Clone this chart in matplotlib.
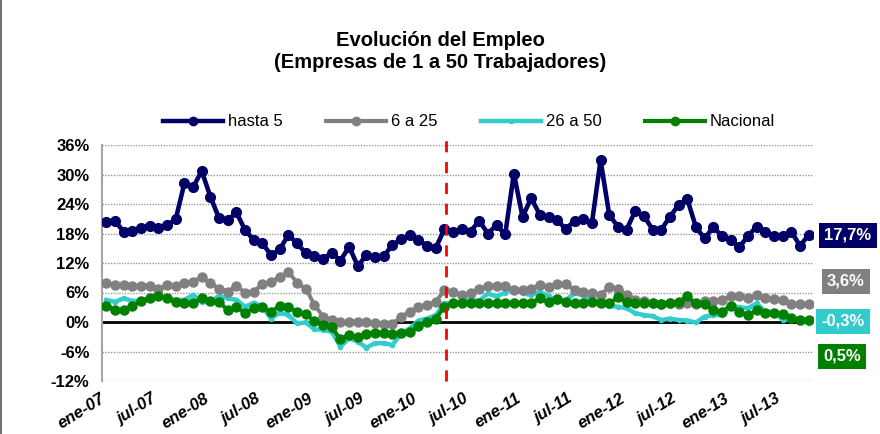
import numpy as np
import matplotlib
matplotlib.use("Agg")
import matplotlib.pyplot as plt
import matplotlib.transforms as mtransforms
from matplotlib.lines import Line2D

plt.rcParams['font.family'] = ['Liberation Sans', 'DejaVu Sans']

# monthly series, ene-07 .. oct-13 (82 months), % yoy
hasta5 = [20.4, 20.5, 18.4, 18.5, 19.2, 19.6, 19.1, 19.7, 20.9, 28.2, 27.4, 30.7,
          25.5, 21.1, 20.7, 22.3, 18.7, 16.7, 16.0, 13.6, 14.8, 17.7, 16.0, 14.0,
          13.4, 12.9, 14.0, 12.5, 15.3, 11.4, 13.6, 13.2, 13.4, 15.7, 16.8, 17.7,
          16.7, 15.5, 15.1, 18.9, 18.4, 18.9, 18.4, 20.6, 18.0, 19.7, 17.8, 30.2,
          21.4, 25.2, 21.8, 21.3, 20.7, 18.9, 20.6, 20.9, 20.1, 32.9, 21.8, 19.4,
          18.8, 22.6, 21.6, 18.8, 18.8, 21.4, 23.8, 25.0, 19.3, 17.0, 19.3, 17.5,
          16.7, 15.2, 17.5, 19.4, 18.4, 17.4, 17.4, 18.4, 15.5, 17.7]
de6a25 = [7.9, 7.5, 7.5, 7.4, 7.4, 7.3, 6.8, 7.5, 7.3, 8.0, 8.2, 9.2,
          7.9, 6.8, 6.2, 7.3, 6.0, 6.2, 7.7, 8.2, 9.2, 10.2, 8.0, 6.8,
          3.5, 1.1, 0.5, -0.1, 0.1, 0.1, -0.1, -0.3, -0.4, -0.4, 1.1, 2.1,
          3.1, 3.5, 4.1, 6.5, 6.2, 5.5, 5.8, 6.8, 7.3, 7.3, 7.3, 6.5,
          6.6, 6.8, 7.6, 7.2, 7.8, 7.7, 6.5, 6.2, 5.8, 5.5, 7.1, 6.8,
          5.5, 4.5, 4.3, 3.9, 3.7, 3.8, 3.7, 3.8, 3.7, 4.3, 4.3, 4.5,
          5.2, 5.2, 4.8, 5.4, 4.8, 4.6, 4.5, 3.7, 3.7, 3.6]
de26a50 = [4.5, 4.1, 4.8, 4.3, 4.3, 4.8, 5.2, 4.8, 4.5, 4.5, 5.5, 4.1,
           4.1, 5.3, 4.8, 4.5, 3.1, 3.9, 3.1, 0.7, 1.9, 1.4, -0.3, -0.1,
           -1.5, -1.6, -2.0, -5.0, -3.3, -4.0, -5.2, -4.3, -4.3, -4.7, -2.3, -1.3,
           0.3, 0.7, 1.4, 3.8, 3.8, 4.1, 4.6, 4.3, 5.8, 5.2, 6.0, 7.0,
           5.8, 5.5, 6.1, 5.3, 4.0, 4.5, 5.8, 5.5, 4.1, 4.5, 3.3, 3.1,
           2.8, 1.8, 1.4, 1.2, 0.4, 0.7, 0.4, 0.3, -0.1, 1.1, 1.4, 1.4,
           3.3, 3.0, 2.8, 3.8, 2.1, 2.1, 0.4, 0.5, 0.4, -0.3]
nacional = [3.3, 2.4, 2.4, 3.3, 4.3, 4.8, 5.2, 4.8, 4.1, 3.9, 3.8, 4.8,
            4.3, 4.1, 2.4, 3.0, 1.9, 2.8, 3.1, 2.1, 3.3, 3.1, 2.1, 1.6,
            0.2, -0.6, -1.1, -3.5, -2.6, -3.1, -2.4, -2.2, -2.2, -2.4, -2.3, -2.0,
            -0.9, -0.1, 0.7, 3.1, 3.8, 3.8, 3.9, 3.9, 3.9, 3.8, 3.8, 3.9,
            3.9, 3.9, 4.8, 4.0, 4.7, 4.1, 3.9, 3.9, 4.1, 3.8, 3.8, 5.0,
            4.1, 3.9, 3.8, 3.9, 3.7, 3.9, 4.1, 5.2, 3.8, 3.7, 2.4, 2.1,
            3.3, 2.1, 1.4, 2.4, 1.9, 1.8, 1.6, 0.9, 0.5, 0.5]
series_names = ["hasta 5", "6 a 25", "26 a 50", "Nacional"]
tick_labels = ["ene-07", "jul-07", "ene-08", "jul-08", "ene-09", "jul-09", "ene-10",
               "jul-10", "ene-11", "jul-11", "ene-12", "jul-12", "ene-13", "jul-13"]
end_labels = ["17,7%", "3,6%", "-0,3%", "0,5%"]
break_month = 39.15  # red dashed marker, around abr-10

colors = ["#000066", "#808080", "#33CCCC", "#008000"]

fig = plt.figure(figsize=(8.8, 4.34), dpi=100)
ax = fig.add_axes([102/880, 1 - 381/434, 711/880, 236/434])

x = np.arange(len(hasta5))
ax.plot(x, de26a50, color=colors[2], lw=3.2, marker='o', ms=3, zorder=3)
ax.plot(x, de6a25, color=colors[1], lw=2.8, marker='o', ms=6.5, zorder=4)
ax.plot(x, nacional, color=colors[3], lw=2.8, marker='o', ms=6.5, zorder=5)
ax.plot(x, hasta5, color=colors[0], lw=3.3, marker='o', ms=7, zorder=6)

ax.axhline(0, color='black', lw=2, zorder=2)
ax.axvline(break_month, color='#ff0000', lw=2, dashes=(4, 3.5), ymax=1.035,
           clip_on=False, zorder=7)

ax.set_xlim(-0.5, len(hasta5) - 0.5)
ax.set_ylim(-12, 36)
ax.set_yticks(np.arange(-12, 37, 6))
ax.set_yticklabels(["%d%%" % v for v in np.arange(-12, 37, 6)],
                   fontsize=12, fontweight='bold')

# month labels drawn as text so they can be nudged like Excel places them
ax.set_xticks([])
shift = mtransforms.ScaledTranslation(-7/100, -10/100, fig.dpi_scale_trans)
trans = mtransforms.blended_transform_factory(ax.transData, ax.transAxes) + shift
for k, lab in enumerate(tick_labels):
    ax.text(k * 6, 0, lab, transform=trans, fontsize=12, fontweight='bold',
            style='italic', rotation=32, ha='right', va='top',
            rotation_mode='anchor')

ax.tick_params(axis='both', length=0)
ax.tick_params(axis='y', pad=9)
ax.grid(axis='y', color='#999999', lw=1, linestyle=(0, (1, 1)))
ax.set_axisbelow(True)
for s in ['top', 'right', 'bottom']:
    ax.spines[s].set_visible(False)
ax.spines['left'].set_color('#a6a6a6')
ax.spines['left'].set_linewidth(1.5)

fig.text(0.5, 1 - 40/434, "Evolución del Empleo", ha='center', va='center',
         fontsize=14.5, fontweight='bold')
fig.text(0.5, 1 - 63/434, "(Empresas de 1 a 50 Trabajadores)", ha='center',
         va='center', fontsize=14.5, fontweight='bold')

handles = [Line2D([], [], color=colors[0], lw=3.2, marker='o', ms=6),
           Line2D([], [], color=colors[1], lw=3, marker='o', ms=6),
           Line2D([], [], color=colors[2], lw=3.2, marker='o', ms=3),
           Line2D([], [], color=colors[3], lw=3, marker='o', ms=6)]
fig.legend(handles, series_names, loc='center', bbox_to_anchor=(469/880, 1 - 122/434),
           ncol=4, frameon=False, fontsize=12, numpoints=1, handlelength=3.6,
           handletextpad=0.3, columnspacing=2.6)

# end value boxes
box_y = [235, 281, 321, 356]
box_x = [848, 846, 843, 842]
for lab, c, bx, by in zip(end_labels, colors, box_x, box_y):
    fig.text(bx/880, 1 - by/434, lab, ha='center', va='center', color='white',
             fontsize=12, fontweight='bold',
             bbox=dict(boxstyle='square,pad=0.3', fc=c, ec='none'))

fig.add_artist(Line2D([1/880, 1/880], [0, 1], color='#555555', lw=1.2))

plt.savefig("out.png", dpi=100)
